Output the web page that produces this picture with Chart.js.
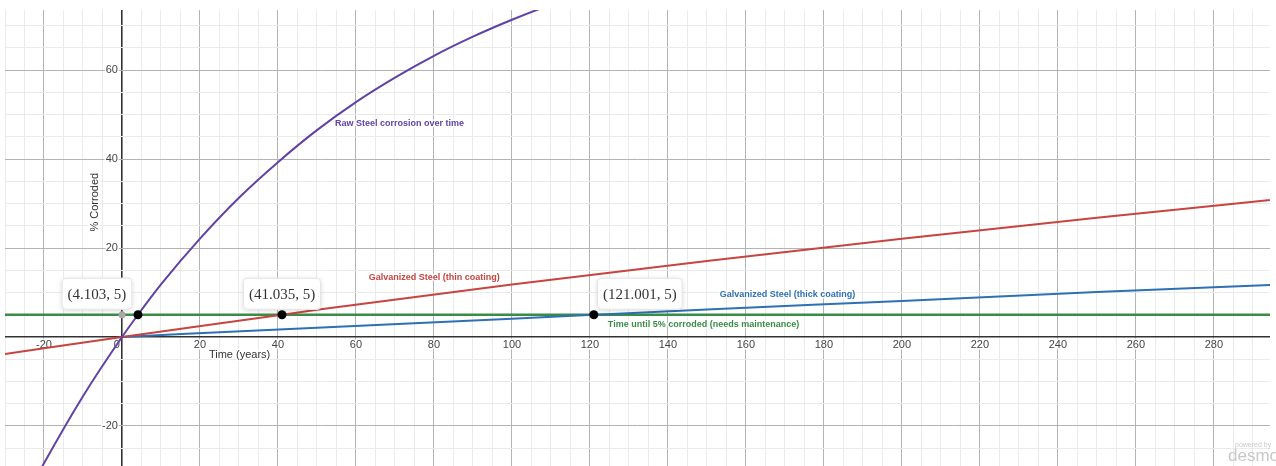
<!DOCTYPE html>
<html>
<head>
<meta charset="utf-8">
<script src="https://cdn.jsdelivr.net/npm/chart.js@4.4.1/dist/chart.umd.min.js"></script>
<style>
html, body { margin: 0; padding: 0; background: #fff; }
#wrap { width: 1276px; height: 466px; position: relative; }
</style>
</head>
<body>
<div id="wrap"><canvas id="grafico"></canvas></div>
<script>
// valores
const rawX = [-25, -20, -10, 0, 4.103, 10, 20, 30, 40, 50, 60, 70, 80, 90, 100, 110, 120];
const rawY = [-36.7, -28.4, -13.3, 0, 5, 11.8, 22.1, 31.3, 39.3, 46.5, 52.8, 58.3, 63.2, 67.5, 71.3, 74.7, 77.7];
const thinX = [-30, 0, 41.035, 50, 100, 150, 200, 250, 300];
const thinY = [-3.8, 0, 5, 6.1, 11.8, 17.1, 22.1, 26.8, 31.3];
const thickX = [0, 50, 100, 121.001, 150, 200, 250, 300];
const thickY = [0, 2.1, 4.1, 5, 6.2, 8.1, 10.1, 11.9];
const limitX = [-30, 300];
const limitY = [5, 5];
const crossX = [4.103, 41.035, 121.001];
const crossY = [5, 5, 5];
const crossLabels = ['(4.103, 5)', '(41.035, 5)', '(121.001, 5)'];
const xTickLabels = [-20, 20, 40, 60, 80, 100, 120, 140, 160, 180, 200, 220, 240, 260, 280];
const yTickLabels = [-20, 20, 40, 60];

const pts = (xs, ys) => xs.map((x, i) => ({ x: x, y: ys[i] }));

// estilos
const COR_ROXO = '#6042a6';
const COR_VERMELHO = '#c74440';
const COR_AZUL = '#2d70b3';
const COR_VERDE = '#388c46';
const labelBoxDx = [-41, 0, 46];

const curveLabels = [
    { text: 'Raw Steel corrosion over time', x: 54.6, y: 47.9, color: COR_ROXO },
    { text: 'Galvanized Steel (thin coating)', x: 63.3, y: 13.4, color: COR_VERMELHO },
    { text: 'Galvanized Steel (thick coating)', x: 153.3, y: 9.6, color: COR_AZUL },
    { text: 'Time until 5% corroded (needs maintenance)', x: 124.6, y: 2.9, color: COR_VERDE }
];

function haloText(ctx, text, x, y) {
    ctx.save();
    ctx.strokeStyle = 'rgba(255,255,255,0.9)';
    ctx.lineWidth = 3;
    ctx.lineJoin = 'round';
    ctx.strokeText(text, x, y);
    ctx.restore();
    ctx.fillText(text, x, y);
}

const desmosPlugin = {
    id: 'desmos',
    beforeDatasetsDraw(chart) {
        const ctx = chart.ctx;
        const xs = chart.scales.x, ys = chart.scales.y;
        const x0 = xs.getPixelForValue(0), y0 = ys.getPixelForValue(0);
        ctx.save();
        ctx.font = '11px "Liberation Sans", Arial, sans-serif';
        ctx.fillStyle = '#444';
        ctx.textAlign = 'center';
        ctx.textBaseline = 'middle';
        xTickLabels.forEach(v => haloText(ctx, String(v), xs.getPixelForValue(v), y0 + 8));
        ctx.textAlign = 'right';
        haloText(ctx, '0', x0 - 2, y0 + 8);
        yTickLabels.forEach(v => haloText(ctx, String(v), x0 - 4, ys.getPixelForValue(v)));
        // títulos dos eixos
        ctx.fillStyle = '#333';
        ctx.textAlign = 'left';
        haloText(ctx, 'Time (years)', xs.getPixelForValue(22.3), ys.getPixelForValue(-4.0));
        ctx.translate(xs.getPixelForValue(-6.9), ys.getPixelForValue(30.3));
        ctx.rotate(-Math.PI / 2);
        ctx.textAlign = 'center';
        haloText(ctx, '% Corroded', 0, 0);
        ctx.restore();
    },
    afterDatasetsDraw(chart) {
        const ctx = chart.ctx;
        const xs = chart.scales.x, ys = chart.scales.y;
        ctx.save();
        ctx.font = 'bold 9px "Liberation Sans", Arial, sans-serif';
        ctx.textAlign = 'left';
        ctx.textBaseline = 'middle';
        curveLabels.forEach(l => {
            ctx.fillStyle = l.color;
            haloText(ctx, l.text, xs.getPixelForValue(l.x), ys.getPixelForValue(l.y));
        });
        // caixas das coordenadas
        ctx.font = '15px "Liberation Serif", "Times New Roman", serif';
        ctx.textAlign = 'center';
        crossX.forEach((v, i) => {
            const px = xs.getPixelForValue(v) + labelBoxDx[i];
            const py = ys.getPixelForValue(crossY[i]);
            const w = ctx.measureText(crossLabels[i]).width + 12;
            const h = 32;
            const bx = px - w / 2, by = py - 5 - h;
            ctx.save();
            ctx.shadowColor = 'rgba(0,0,0,0.15)';
            ctx.shadowBlur = 4;
            ctx.shadowOffsetY = 1;
            ctx.fillStyle = '#fff';
            ctx.beginPath();
            ctx.roundRect(bx, by, w, h, 4);
            ctx.fill();
            ctx.restore();
            ctx.strokeStyle = '#e2e2e2';
            ctx.lineWidth = 1;
            ctx.beginPath();
            ctx.roundRect(bx + 0.5, by + 0.5, w - 1, h - 1, 4);
            ctx.stroke();
            ctx.fillStyle = '#333';
            ctx.fillText(crossLabels[i], px, by + h / 2 + 1);
        });
        // marca d'água
        ctx.fillStyle = '#c8c8c8';
        ctx.textAlign = 'left';
        ctx.textBaseline = 'alphabetic';
        ctx.font = '7px "Liberation Sans", Arial, sans-serif';
        ctx.fillText('powered by', 1235, 447);
        ctx.font = '17px "Liberation Sans", Arial, sans-serif';
        ctx.fillText('desmos', 1228, 461);
        ctx.restore();
    }
};

function gridColor(ctx) {
    const v = ctx.tick ? ctx.tick.value : null;
    if (v === null || Math.abs(v % 5) > 1e-6) return 'rgba(0,0,0,0)';
    if (v === 0) return '#333';
    if (v % 20 === 0) return '#b3b3b3';
    return '#eaeaea';
}
function gridWidth(ctx) {
    return ctx.tick && ctx.tick.value === 0 ? 1.6 : 1;
}

new Chart(document.getElementById('grafico').getContext('2d'), {
    type: 'line',
    data: {
        datasets: [{
            type: 'scatter',
            label: 'Interseções',
            data: pts(crossX, crossY).concat([{ x: 0, y: 5 }]),
            pointRadius: [4.5, 4.5, 4.5, 3.5],
            pointBackgroundColor: ['#000', '#000', '#000', '#aaaaaa'],
            pointBorderWidth: 0,
            showLine: false
        }, {
            label: 'Raw Steel corrosion over time',
            data: pts(rawX, rawY),
            borderColor: COR_ROXO,
            borderWidth: 2,
            pointRadius: 0,
            cubicInterpolationMode: 'monotone'
        }, {
            label: 'Galvanized Steel (thin coating)',
            data: pts(thinX, thinY),
            borderColor: COR_VERMELHO,
            borderWidth: 2,
            pointRadius: 0,
            cubicInterpolationMode: 'monotone'
        }, {
            label: 'Galvanized Steel (thick coating)',
            data: pts(thickX, thickY),
            borderColor: COR_AZUL,
            borderWidth: 2,
            pointRadius: 0,
            cubicInterpolationMode: 'monotone'
        }, {
            label: 'Time until 5% corroded (needs maintenance)',
            data: pts(limitX, limitY),
            borderColor: COR_VERDE,
            borderWidth: 2.5,
            pointRadius: 0
        }]
    },
    options: {
        responsive: true,
        maintainAspectRatio: false,
        animation: false,
        devicePixelRatio: 1,
        layout: { autoPadding: false, padding: { left: 5, top: 10, right: 6, bottom: 0 } },
        plugins: {
            legend: { display: false },
            tooltip: { enabled: false }
        },
        scales: {
            x: {
                type: 'linear',
                min: -30,
                max: 294.4,
                border: { display: false },
                ticks: { display: false, stepSize: 5, includeBounds: false, autoSkip: false },
                grid: { color: gridColor, lineWidth: gridWidth, drawTicks: false }
            },
            y: {
                type: 'linear',
                min: -29,
                max: 73.5,
                border: { display: false },
                ticks: { display: false, stepSize: 5, includeBounds: false, autoSkip: false },
                grid: { color: gridColor, lineWidth: gridWidth, drawTicks: false }
            }
        }
    },
    plugins: [desmosPlugin]
});
</script>
</body>
</html>
